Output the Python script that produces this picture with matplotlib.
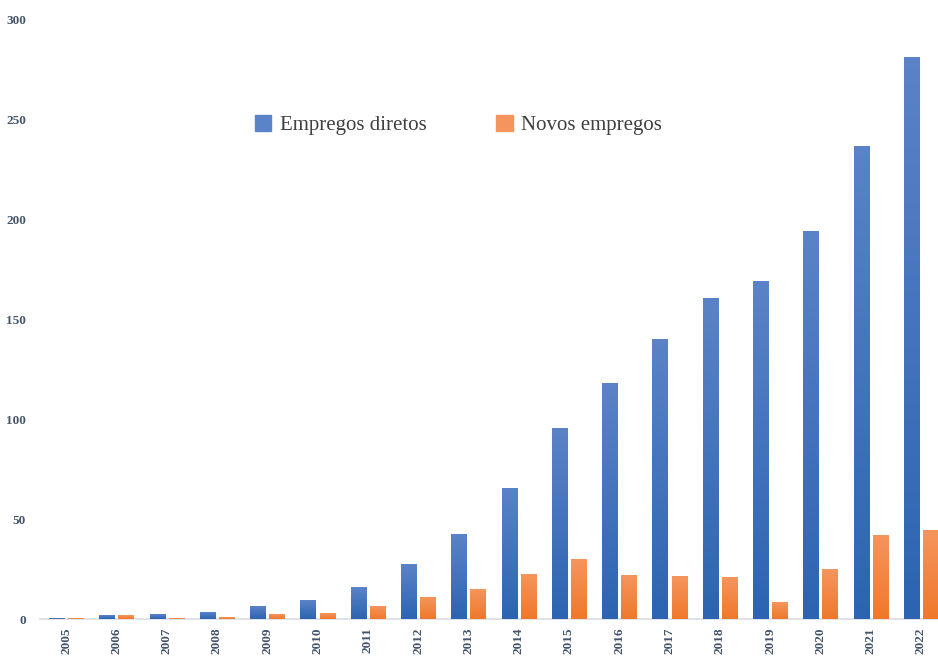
import numpy as np
import matplotlib.pyplot as plt
from matplotlib.colors import LinearSegmentedColormap
from matplotlib.patches import Patch

# data
years = ['2005', '2006', '2007', '2008', '2009', '2010', '2011', '2012', '2013',
         '2014', '2015', '2016', '2017', '2018', '2019', '2020', '2021', '2022']
diretos = [0.5, 2, 2.5, 3.5, 6.5, 9.5, 16, 27.5, 42.5,
           65.5, 95.5, 118, 140, 161, 169.5, 194.5, 237, 281.5]
novos = [0.5, 2, 0.5, 1, 2.5, 3, 6.5, 11, 15,
         22.5, 30, 22, 21.5, 21, 8.5, 25, 42, 44.5]
labels = ['Empregos diretos', 'Novos empregos']

blue_top, blue_bottom = '#5B83C7', '#2C64B1'
orange_top, orange_bottom = '#F5955D', '#EF782B'
tick_color = '#44546A'

plt.rcParams['font.family'] = ['Liberation Serif', 'DejaVu Serif']

fig = plt.figure(figsize=(9.38, 6.56), dpi=100)
ax = fig.add_axes([40 / 938, 1 - 619 / 656, 898 / 938, 599 / 656])

x = np.arange(len(years))
w = 0.30
off = 0.19


def gradient_bars(xs, heights, top, bottom):
    # bar drawn plain, then a vertical gradient image clipped to its shape
    cmap = LinearSegmentedColormap.from_list('g', [bottom, top])
    grad = np.linspace(0, 1, 256).reshape(-1, 1)
    bars = ax.bar(xs, heights, w, color=bottom, edgecolor='none', zorder=2)
    for b in bars:
        x0, y0 = b.get_x(), b.get_y()
        x1, y1 = x0 + b.get_width(), y0 + b.get_height()
        im = ax.imshow(grad, cmap=cmap, aspect='auto', origin='lower',
                       extent=[x0, x1, y0, y1], zorder=3)
        im.set_clip_path(b)
    return bars


gradient_bars(x - off, diretos, blue_top, blue_bottom)
gradient_bars(x + off, novos, orange_top, orange_bottom)

ax.set_xlim(-0.52, len(years) - 1 + 0.34)
ax.set_ylim(0, 300)

for s in ['top', 'right', 'left']:
    ax.spines[s].set_visible(False)
ax.spines['bottom'].set_color('#D9DDE4')
ax.spines['bottom'].set_linewidth(1.2)

ax.set_xticks(x)
ax.set_xticklabels(years, rotation=90, fontsize=9.5, fontweight='bold',
                   color=tick_color)
ax.set_yticks(range(0, 301, 50))
ax.set_yticklabels([str(v) for v in range(0, 301, 50)], fontsize=9.5,
                   fontweight='bold', color=tick_color)
ax.tick_params(axis='both', length=0)
ax.tick_params(axis='x', pad=6)
ax.tick_params(axis='y', pad=10)

handles = [Patch(color=blue_top), Patch(color=orange_top)]
ax.legend(handles, labels, loc='center', bbox_to_anchor=(0.466, 0.825),
          ncol=2, frameon=False, fontsize=15, handlelength=0.8,
          handleheight=0.8, handletextpad=0.4, columnspacing=3.35,
          labelcolor='#404040')

fig.savefig('out.png', dpi=100)
